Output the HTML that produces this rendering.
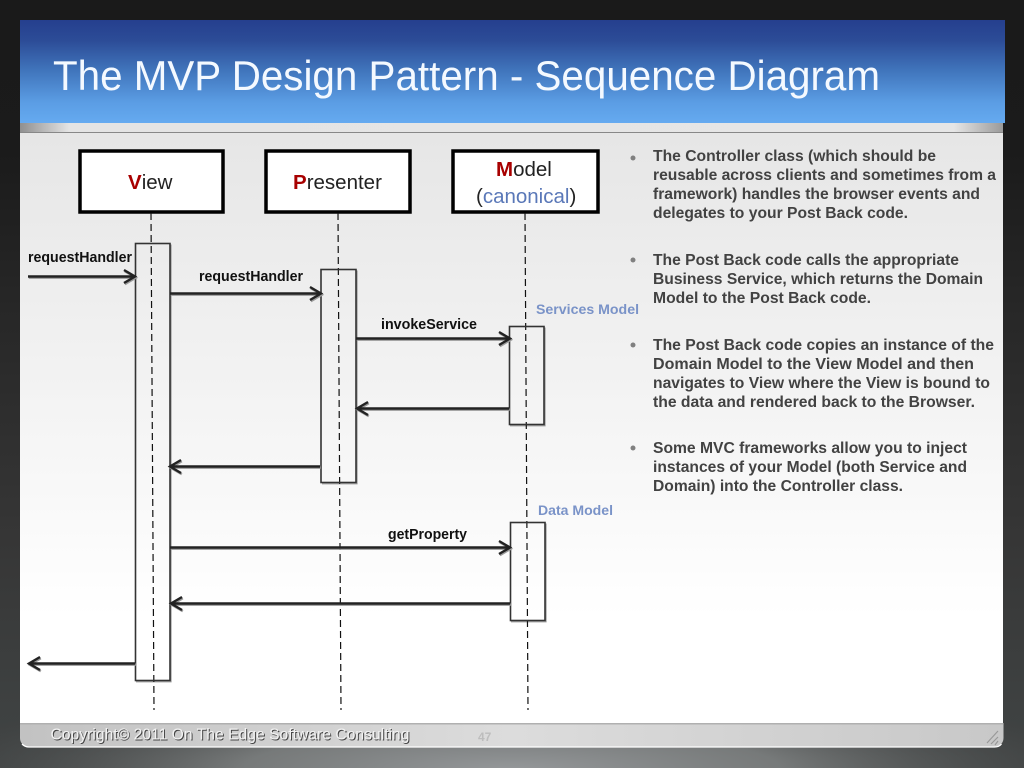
<!DOCTYPE html>
<html>
<head>
<meta charset="utf-8">
<style>
html,body{margin:0;padding:0;width:1024px;height:768px;overflow:hidden;background:#1a1a1a}
svg{display:block}
text{font-family:"Liberation Sans",sans-serif}
.b{font-weight:bold;font-size:16px;fill:#424242}
.l{font-weight:bold;font-size:14.500px;fill:#111}
.m{font-size:20.500px;fill:#222}
.r{fill:#a80000;font-weight:bold}
.box{fill:#fff;stroke:#000;stroke-width:3.5}
.act{fill:none;stroke:#333;stroke-width:1.6}
.acts{fill:none;stroke:#999;stroke-width:1.2}
.dash{stroke:#111;stroke-width:1.2;stroke-dasharray:7 4;fill:none}
.ar{stroke:#222;stroke-width:2.4;fill:none}
.ars{stroke:#9a9a9a;stroke-width:2.4;fill:none}
.dot{fill:#808080}
.sv{font-weight:bold;font-size:14px;fill:#7a93c8}
</style>
</head>
<body>
<svg width="1024" height="768" viewBox="0 0 1024 768" xmlns="http://www.w3.org/2000/svg">
<defs>
<linearGradient id="bgV" x1="0" y1="0" x2="0" y2="1">
<stop offset="0" stop-color="#1a1a1a"/><stop offset=".2" stop-color="#1b1b1b"/><stop offset=".4" stop-color="#272727"/><stop offset=".7" stop-color="#363636"/><stop offset=".92" stop-color="#3e4141"/><stop offset="1" stop-color="#404343"/>
</linearGradient>
<radialGradient id="glow" gradientUnits="userSpaceOnUse" cx="0" cy="0" r="1" gradientTransform="translate(512 770) scale(600 90)">
<stop offset="0" stop-color="#95989a"/><stop offset=".45" stop-color="#808383" stop-opacity=".85"/><stop offset="1" stop-color="#4a4c4c" stop-opacity="0"/>
</radialGradient>
<linearGradient id="title" x1="0" y1="0" x2="0" y2="1">
<stop offset="0" stop-color="#253f8e"/><stop offset=".2" stop-color="#2c4c97"/><stop offset=".5" stop-color="#4176bd"/><stop offset=".8" stop-color="#5b9de4"/><stop offset="1" stop-color="#65aaf0"/>
</linearGradient>
<linearGradient id="band" x1="0" y1="0" x2="1" y2="0">
<stop offset="0" stop-color="#8f8f8f"/><stop offset=".05" stop-color="#e4e4e4"/><stop offset=".95" stop-color="#e6e6e6"/><stop offset="1" stop-color="#9a9a9a"/>
</linearGradient>
<linearGradient id="body" x1="0" y1="0" x2="0" y2="1">
<stop offset="0" stop-color="#e6e6e6"/><stop offset=".5" stop-color="#f5f5f5"/><stop offset=".82" stop-color="#fff"/><stop offset="1" stop-color="#fff"/>
</linearGradient>
<linearGradient id="foot" x1="0" y1="0" x2="1" y2="0">
<stop offset="0" stop-color="#c2c2c2"/><stop offset=".5" stop-color="#dcdcdc"/><stop offset="1" stop-color="#c8c8c8"/>
</linearGradient>
</defs>

<rect width="1024" height="768" fill="url(#bgV)"/>
<rect x="0" y="680" width="1024" height="88" fill="url(#glow)"/>

<rect x="20" y="20" width="985" height="103" fill="url(#title)"/>
<rect x="20" y="123" width="983" height="10" fill="url(#band)"/>
<rect x="20" y="132" width="983" height="1.5" fill="#888"/>
<rect x="20" y="133" width="983" height="591" fill="url(#body)"/>
<path d="M20 723H1003.500V738a9 9 0 0 1-9 9H29a9 9 0 0 1-9-9Z" fill="url(#foot)"/>
<path d="M22 744Q25 747 29 747H994.500Q999 747 1001.500 744" fill="none" stroke="#fff" stroke-width="1.3"/>
<rect x="20" y="723" width="983" height="1.5" fill="#b0b0b0"/>
<path d="M987 743L998 731M991 744L998 737M995 745L998 741" stroke="#999" stroke-width="1.2" fill="none"/>

<text x="53" y="90" font-size="42" fill="#f4f9ff" textLength="827" lengthAdjust="spacingAndGlyphs">The MVP Design Pattern - Sequence Diagram</text>

<rect class="box" x="80" y="151" width="143" height="61"/>
<rect class="box" x="266" y="151" width="144" height="61"/>
<rect class="box" x="453" y="151" width="145" height="61"/>
<text class="m" x="128" y="189"><tspan class="r">V</tspan>iew</text>
<text class="m" x="293" y="189"><tspan class="r">P</tspan>resenter</text>
<text class="m" x="496" y="176"><tspan class="r">M</tspan>odel</text>
<text class="m" x="476" y="203">(<tspan fill="#5a78b8">canonical</tspan>)</text>

<path class="acts" d="M136 681.800H171V244.500"/>
<path class="acts" d="M322 483.800H357V270.500"/>
<path class="acts" d="M510 425.800H545V327.500"/>
<path class="acts" d="M511 621.800H546V523.500"/>

<path class="dash" d="M151 213L154 710"/>
<path class="dash" d="M338 213L341 710"/>
<path class="dash" d="M525 213L528 710"/>

<rect class="act" x="135.500" y="243.500" width="34.500" height="437"/>
<rect class="act" x="321" y="269.500" width="35" height="213"/>
<rect class="act" x="509.500" y="326.500" width="34.500" height="98"/>
<rect class="act" x="510.500" y="522.500" width="34.500" height="98"/>

<g transform="translate(0.800 1.200)">
<path class="ars" d="M28 276.500H134M124 270L135 276.500L124 283"/>
<path class="ars" d="M170 293.500H320M310 287L321 293.500L310 300"/>
<path class="ars" d="M356 338.500H509M499 332L510 338.500L499 345"/>
<path class="ars" d="M509 408.500H358M368 402L357 408.500L368 415"/>
<path class="ars" d="M320 466.500H171M181 460L170 466.500L181 473"/>
<path class="ars" d="M170 547.500H509M499 541L510 547.500L499 554"/>
<path class="ars" d="M510 603.500H172M182 597L171 603.500L182 610"/>
<path class="ars" d="M135 663.500H30M40 657L29 663.500L40 670"/>
</g>
<path class="ar" d="M28 276.500H134M124 270L135 276.500L124 283"/>
<path class="ar" d="M170 293.500H320M310 287L321 293.500L310 300"/>
<path class="ar" d="M356 338.500H509M499 332L510 338.500L499 345"/>
<path class="ar" d="M509 408.500H358M368 402L357 408.500L368 415"/>
<path class="ar" d="M320 466.500H171M181 460L170 466.500L181 473"/>
<path class="ar" d="M170 547.500H509M499 541L510 547.500L499 554"/>
<path class="ar" d="M510 603.500H172M182 597L171 603.500L182 610"/>
<path class="ar" d="M135 663.500H30M40 657L29 663.500L40 670"/>

<text class="l" x="28" y="262" textLength="104" lengthAdjust="spacingAndGlyphs">requestHandler</text>
<text class="l" x="199" y="281" textLength="104" lengthAdjust="spacingAndGlyphs">requestHandler</text>
<text class="l" x="381" y="329" textLength="96" lengthAdjust="spacingAndGlyphs">invokeService</text>
<text class="l" x="388" y="539" textLength="79" lengthAdjust="spacingAndGlyphs">getProperty</text>
<text class="sv" x="536" y="314" textLength="103" lengthAdjust="spacingAndGlyphs">Services Model</text>
<text class="sv" x="538" y="515" textLength="75" lengthAdjust="spacingAndGlyphs">Data Model</text>

<circle class="dot" cx="633" cy="158" r="2.500"/>
<circle class="dot" cx="633" cy="260" r="2.500"/>
<circle class="dot" cx="633" cy="345" r="2.500"/>
<circle class="dot" cx="633" cy="448" r="2.500"/>

<text class="b" x="653" y="161" textLength="283" lengthAdjust="spacingAndGlyphs">The Controller class (which should be</text>
<text class="b" x="653" y="180" textLength="343" lengthAdjust="spacingAndGlyphs">reusable across clients and sometimes from a</text>
<text class="b" x="653" y="199" textLength="327" lengthAdjust="spacingAndGlyphs">framework) handles the browser events and</text>
<text class="b" x="653" y="218" textLength="255" lengthAdjust="spacingAndGlyphs">delegates to your Post Back code.</text>

<text class="b" x="653" y="265" textLength="306" lengthAdjust="spacingAndGlyphs">The Post Back code calls the appropriate</text>
<text class="b" x="653" y="284" textLength="330" lengthAdjust="spacingAndGlyphs">Business Service, which returns the Domain</text>
<text class="b" x="653" y="303" textLength="218" lengthAdjust="spacingAndGlyphs">Model to the Post Back code.</text>

<text class="b" x="653" y="350" textLength="341" lengthAdjust="spacingAndGlyphs">The Post Back code copies an instance of the</text>
<text class="b" x="653" y="369" textLength="321" lengthAdjust="spacingAndGlyphs">Domain Model to the View Model and then</text>
<text class="b" x="653" y="388" textLength="337" lengthAdjust="spacingAndGlyphs">navigates to View where the View is bound to</text>
<text class="b" x="653" y="407" textLength="322" lengthAdjust="spacingAndGlyphs">the data and rendered back to the Browser.</text>

<text class="b" x="653" y="453" textLength="314" lengthAdjust="spacingAndGlyphs">Some MVC frameworks allow you to inject</text>
<text class="b" x="653" y="472" textLength="314" lengthAdjust="spacingAndGlyphs">instances of your Model (both Service and</text>
<text class="b" x="653" y="491" textLength="250" lengthAdjust="spacingAndGlyphs">Domain) into the Controller class.</text>

<text x="51.500" y="740.500" font-size="16" fill="#444" textLength="359" lengthAdjust="spacingAndGlyphs">Copyright© 2011 On The Edge Software Consulting</text>
<text x="50.500" y="739.500" font-size="16" fill="#f2f2f2" textLength="359" lengthAdjust="spacingAndGlyphs">Copyright© 2011 On The Edge Software Consulting</text>
<text x="478" y="741" font-size="12" font-weight="bold" fill="#bdbdbd">47</text>
</svg>
</body>
</html>
